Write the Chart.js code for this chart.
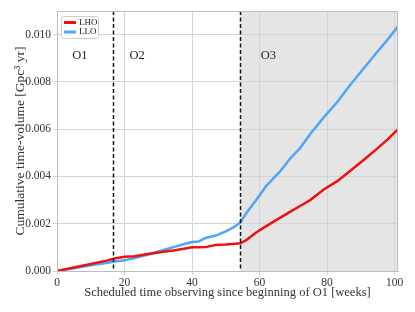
<!DOCTYPE html>
<html>
<head>
<meta charset="utf-8">
<script src="https://cdn.jsdelivr.net/npm/chart.js@4/dist/chart.umd.min.js"></script>
<style>
    html, body { margin: 0; padding: 0; background: #fff; }
    canvas { display: block; }
</style>
</head>
<body>
<canvas id="tv-chart" width="415" height="312"></canvas>
<script>
// weeks since start of O1
const weeks = [0, 5, 10, 15, 17, 20, 23, 27, 31, 35, 38, 40, 42, 44, 47, 50, 52, 54.3, 56, 59, 62, 66, 69, 72, 75, 79, 83, 87, 91, 95, 98, 101];
const lho = [0, 0.00015, 0.0003, 0.00045, 0.00053, 0.0006, 0.00062, 0.00072, 0.0008, 0.00088, 0.00095, 0.001, 0.001, 0.00101, 0.0011, 0.00112, 0.00114, 0.00117,
    0.0013, 0.00163, 0.0019, 0.00225, 0.0025, 0.00275, 0.003, 0.00345, 0.0038, 0.00425, 0.00472, 0.0052, 0.00558, 0.006];
const llo = [0, 0.00012, 0.00024, 0.00035, 0.0004, 0.00045, 0.00055, 0.0007, 0.00087, 0.00103, 0.00115, 0.00123, 0.00125, 0.0014, 0.0015, 0.00168, 0.00182, 0.00205,
    0.00243, 0.003, 0.0036, 0.0042, 0.00475, 0.0052, 0.0058, 0.0065, 0.00715, 0.0079, 0.0086, 0.0093, 0.0098, 0.01035];

const runBoundaries = [16.6, 54.3];
const runLabels = ['O1', 'O2', 'O3'];
const runLabelX = [6.8, 23.7, 62.6];
const runLabelY = 0.0091;

const serif = '"Liberation Serif", "DejaVu Serif", serif';

const toPoints = (ys) => weeks.map((w, i) => ({ x: w, y: ys[i] }));

const runsPlugin = {
    id: 'runs',
    beforeDraw(chart) {
        const { ctx, chartArea, scales } = chart;
        const x0 = scales.x.getPixelForValue(runBoundaries[1]);
        ctx.save();
        ctx.fillStyle = '#e5e5e5';
        ctx.fillRect(x0, chartArea.top, chartArea.right - x0, chartArea.bottom - chartArea.top);
        ctx.restore();
    },
    afterDatasetsDraw(chart) {
        const { ctx, chartArea, scales } = chart;
        ctx.save();
        // dashed run boundaries
        ctx.strokeStyle = '#111';
        ctx.lineWidth = 1.5;
        ctx.setLineDash([4, 2.5]);
        runBoundaries.forEach(b => {
            const px = Math.round(scales.x.getPixelForValue(b)) + 0.5;
            ctx.beginPath();
            ctx.moveTo(px, chartArea.top);
            ctx.lineTo(px, chartArea.bottom);
            ctx.stroke();
        });
        ctx.setLineDash([]);

        // frame
        ctx.strokeStyle = '#bdbdbd';
        ctx.lineWidth = 1;
        ctx.strokeRect(chartArea.left + 0.5, chartArea.top + 0.5,
            chartArea.right - chartArea.left - 1, chartArea.bottom - chartArea.top);

        // run labels
        ctx.fillStyle = '#222';
        ctx.font = '12.5px ' + serif;
        ctx.textAlign = 'center';
        ctx.textBaseline = 'middle';
        runLabels.forEach((t, i) => {
            ctx.fillText(t, scales.x.getPixelForValue(runLabelX[i]), scales.y.getPixelForValue(runLabelY));
        });

        // legend
        const lx = chartArea.left + 4, ly = chartArea.top + 5;
        ctx.fillStyle = 'rgba(255,255,255,0.85)';
        ctx.strokeStyle = '#cccccc';
        ctx.beginPath();
        ctx.roundRect(lx + 0.5, ly + 0.5, 37, 22, 2);
        ctx.fill();
        ctx.stroke();
        ctx.font = '9px ' + serif;
        ctx.textAlign = 'left';
        chart.data.datasets.forEach((ds, i) => {
            const yy = ly + 6.5 + i * 9.5;
            ctx.strokeStyle = ds.borderColor;
            ctx.lineWidth = 3;
            ctx.beginPath();
            ctx.moveTo(lx + 3, yy);
            ctx.lineTo(lx + 15, yy);
            ctx.stroke();
            ctx.fillStyle = '#222';
            ctx.fillText(ds.label, lx + 18, yy);
        });
        ctx.restore();
    }
};

new Chart(document.getElementById('tv-chart'), {
    type: 'line',
    data: {
        datasets: [
            { label: 'LHO', data: toPoints(lho), borderColor: '#ee1111', borderWidth: 2.5, pointRadius: 0, tension: 0 },
            { label: 'LLO', data: toPoints(llo), borderColor: '#4da6f7', borderWidth: 2.5, pointRadius: 0, tension: 0 }
        ]
    },
    options: {
        responsive: false,
        animation: false,
        layout: { padding: { top: 11, right: 17, left: 0, bottom: 0 } },
        plugins: {
            legend: { display: false },
            tooltip: { enabled: false }
        },
        scales: {
            x: {
                type: 'linear',
                min: 0,
                max: 101,
                afterFit: (s) => { s.height = 41; },
                afterBuildTicks: (s) => { s.ticks = [0, 20, 40, 60, 80, 100].map(v => ({ value: v })); },
                ticks: { color: '#333', font: { family: serif, size: 11.5 }, padding: 1, maxRotation: 0 },
                grid: { color: '#d4d4d4', tickLength: 4 },
                border: { color: '#bdbdbd' },
                title: {
                    display: true,
                    text: 'Scheduled time observing since beginning of O1 [weeks]',
                    color: '#333',
                    font: { family: serif, size: 12.5 },
                    padding: { top: 1, bottom: 12 }
                }
            },
            y: {
                min: 0,
                max: 0.011,
                afterFit: (s) => { s.width = 57; },
                afterBuildTicks: (s) => { s.ticks = [0, 0.002, 0.004, 0.006, 0.008, 0.01].map(v => ({ value: v })); },
                ticks: { color: '#333', font: { family: serif, size: 11.5 }, padding: 2, callback: (v) => v.toFixed(3) },
                grid: { color: '#d4d4d4', tickLength: 4 },
                border: { color: '#bdbdbd' },
                title: {
                    display: true,
                    text: 'Cumulative time-volume [Gpc³ yr]',
                    color: '#333',
                    font: { family: serif, size: 13.5 },
                    padding: { top: 12, bottom: 2 }
                }
            }
        }
    },
    plugins: [runsPlugin]
});
</script>
</body>
</html>
